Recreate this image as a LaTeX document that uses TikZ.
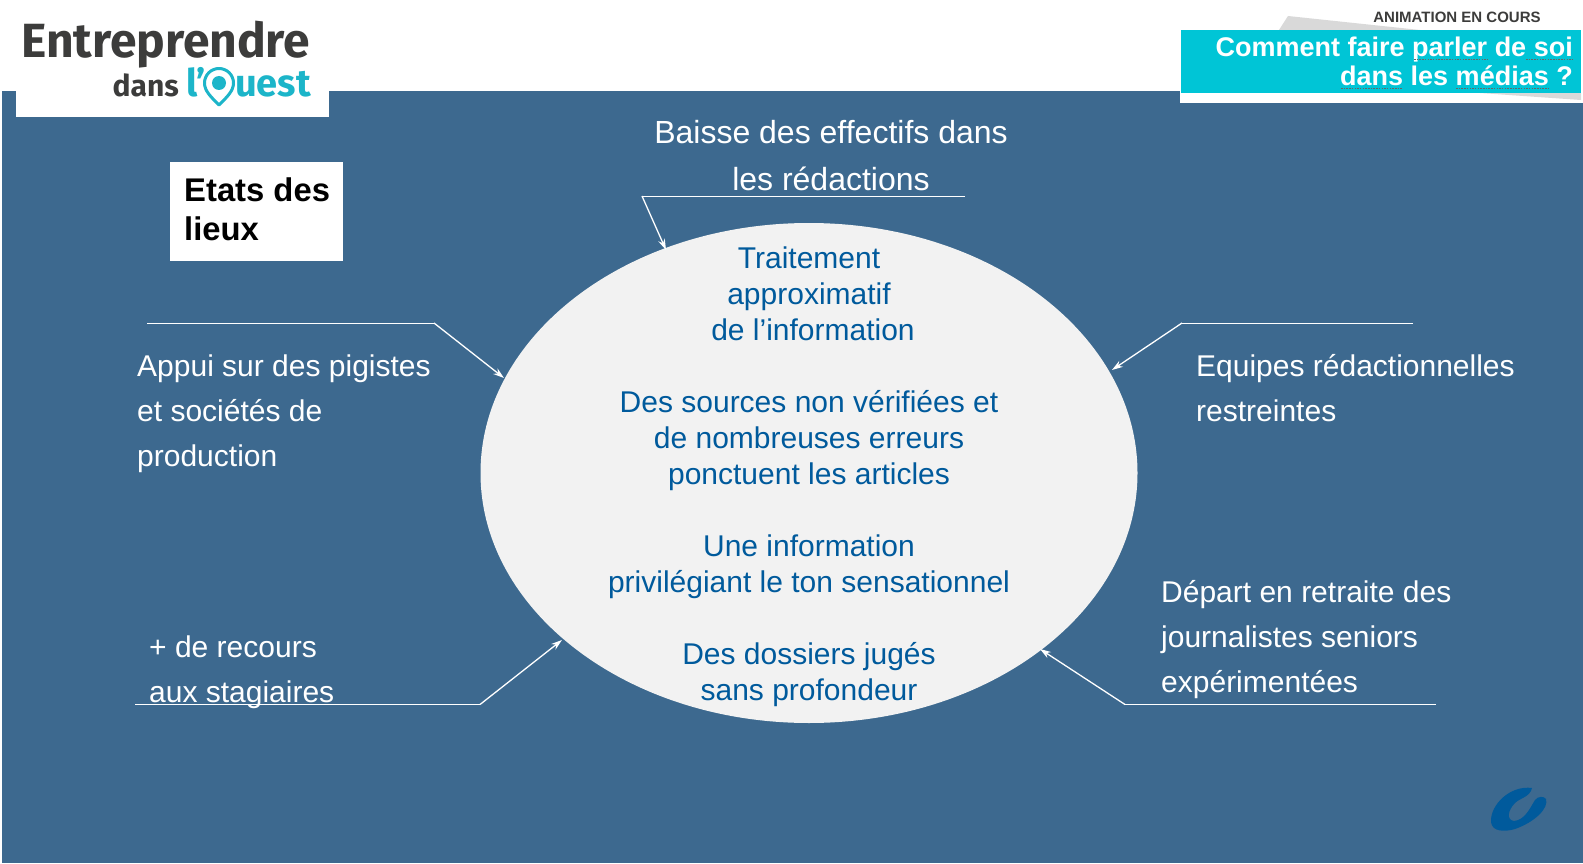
\documentclass[tikz,border=0pt]{standalone}
\usepackage{fontspec}
\setmainfont{Liberation Sans}
\newfontfamily\logofont{Fira Sans}
\usetikzlibrary{arrows.meta,shapes.geometric}
\definecolor{fondbleu}{HTML}{3D698F}
\definecolor{textebleu}{HTML}{005A9C}
\definecolor{cyanbox}{HTML}{00C5D6}
\definecolor{logogris}{HTML}{3C3C3B}
\definecolor{logocyan}{HTML}{1CB5C9}
\definecolor{ovalgris}{HTML}{F2F2F2}
\tikzset{
  blanc/.style={text=white,font=\fontsize{30pt}{44.9pt}\selectfont,align=left,anchor=base west,inner sep=0pt},
  centre/.style={text=textebleu,font=\fontsize{30pt}{36.3pt}\selectfont,align=center,anchor=base,inner sep=0pt},
  fil/.style={white,line width=1pt},
  fleche/.style={white,line width=1.3pt,-{Stealth[length=11pt,width=7pt]}},
  souligne/.style={black!60,line width=1.2pt,dash pattern=on 1.5pt off 1.2pt},
}
\begin{document}
\begin{tikzpicture}[x=1pt,y=-1pt,line join=round]
	%Cadre.
	\useasboundingbox (0,0) rectangle (1583,864);
	\fill[white] (0,0) rectangle (1583,864);
	\fill[fondbleu] (2,91) rectangle (1583,863);
	%Logo.
	\fill[white] (16,0) rectangle (329,117);
	\node[anchor=base west,text=logogris,inner sep=0pt,font=\logofont\bfseries\fontsize{48pt}{48pt}\selectfont] (entre) at (21,58) {Entreprendre};
	\node[anchor=base east,text=logogris,inner sep=0pt,font=\logofont\bfseries\fontsize{30pt}{30pt}\selectfont] (dans) at (179,97) {dans};
	\node[anchor=base west,text=logocyan,inner sep=0pt,font=\logofont\bfseries\fontsize{38pt}{38pt}\selectfont] (lo) at (186,97) {l’};
	\node[anchor=base east,text=logocyan,inner sep=0pt,font=\logofont\bfseries\fontsize{38pt}{38pt}\selectfont] (uest) at (311,97) {uest};
	\draw[logocyan,line width=3pt,fill=white] (219,105) .. controls (211,97) and (204.5,91) .. (204.5,83) arc[start angle=180,end angle=360,x radius=14.5,y radius=14.5] .. controls (233.5,91) and (227,97) .. (219,105) -- cycle;
	\fill[logocyan] (219,83) circle (7);
	%Bandeau.
	\fill[white] (1180,30) rectangle (1583,103);
	\fill[black!15] (1279,30) -- (1288,16) -- (1420,30) -- cycle;
	\fill[black!15] (1480,93) -- (1581,100) -- (1581,93) -- cycle;
	\fill[cyanbox] (1181,30) rectangle (1581,93);
	\node[anchor=base,text=logogris,inner sep=0pt,font=\bfseries\fontsize{15pt}{15pt}\selectfont] (animation) at (1457,23) {ANIMATION EN COURS};
	\node[anchor=base east,text=white,inner sep=0pt,align=right,font=\bfseries\fontsize{27pt}{29pt}\selectfont] (titre) at (1573,86) {Comment faire parler de soi\\dans les médias ?};
	\draw[souligne] (1414,59.5)--(1488,59.5);
	\draw[souligne] (1526,59.5)--(1572,59.5);
	\draw[souligne] (1341,88.5)--(1402,88.5);
	\draw[souligne] (1456,88.5)--(1549,88.5);
	%Etats des lieux.
	\fill[white] (170,162) rectangle (343,261);
	\node[anchor=base west,inner sep=0pt,align=left,font=\bfseries\fontsize{32.8pt}{39pt}\selectfont] (etats) at (184,240) {Etats des\\lieux};
	%Ovale.
	\node[ellipse,fill=ovalgris,minimum width=657,minimum height=500,inner sep=0pt] (ovale) at (809,473) {};
	\node[centre] (t1) at (809,340.6) {Traitement\\approximatif\\\hspace{8pt}de l’information};
	\node[centre] (t2) at (809,484.6) {Des sources non vérifiées et\\de nombreuses erreurs\\ponctuent les articles};
	\node[centre] (t3) at (809,592.3) {Une information\\privilégiant le ton sensationnel};
	\node[centre] (t4) at (809,700.3) {Des dossiers jugés\\sans profondeur};
	%Textes blancs.
	\node[blanc,anchor=base,align=center,font=\fontsize{32pt}{47.5pt}\selectfont] (baisse) at (831,190.9) {Baisse des effectifs dans\\les rédactions};
	\node[blanc] (appui) at (137,466) {Appui sur des pigistes\\et sociétés de\\production};
	\node[blanc] (recours) at (149,702) {+ de recours\\aux stagiaires};
	\node[blanc] (equipes) at (1196,421) {Equipes rédactionnelles\\restreintes};
	\node[blanc] (depart) at (1161,692) {Départ en retraite des\\journalistes seniors\\expérimentées};
	%Traits.
	\coordinate (b1) at (965,196);
	\coordinate (b2) at (642,196);
	\coordinate (b3) at (666,250);
	\draw[fil] (b1)--(b2);
	\draw[fleche] (b2)--(b3);
	\coordinate (a1) at (147,323);
	\coordinate (a2) at (434,323);
	\coordinate (a3) at (504,378);
	\draw[fil] (a1)--(a2);
	\draw[fleche] (a2)--(a3);
	\coordinate (e1) at (1413,323);
	\coordinate (e2) at (1182,323);
	\coordinate (e3) at (1112,370);
	\draw[fil] (e1)--(e2);
	\draw[fleche] (e2)--(e3);
	\coordinate (r1) at (135,704.5);
	\coordinate (r2) at (480,704.5);
	\coordinate (r3) at (562,640);
	\draw[fil] (r1)--(r2);
	\draw[fleche] (r2)--(r3);
	\coordinate (d1) at (1436,704.5);
	\coordinate (d2) at (1125,704.5);
	\coordinate (d3) at (1040,649);
	\draw[fil] (d1)--(d2);
	\draw[fleche] (d2)--(d3);
	%Petit logo.
	\fill[textebleu] (1532,788) .. controls (1510,785) and (1490,805) .. (1491,822) .. controls (1492,832) and (1505,832) .. (1515,829) .. controls (1535,822) and (1549,808) .. (1546,799) .. controls (1544,796) and (1538,796) .. (1535,800) .. controls (1530,808) and (1525,820) .. (1514,821) .. controls (1506,820) and (1508,810) .. (1515,803) .. controls (1520,798) and (1530,797) .. (1532,788) -- cycle;
\end{tikzpicture}
\end{document}
